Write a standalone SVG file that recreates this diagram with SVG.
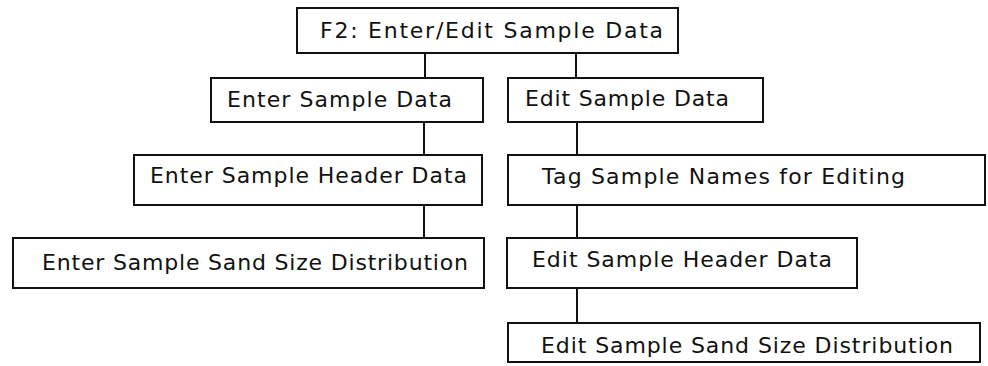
<svg xmlns="http://www.w3.org/2000/svg" width="988" height="366" viewBox="0 0 988 366">
<style>
.box{fill:#fff;stroke:#111;stroke-width:2}
.lbl{font-family:"DejaVu Sans","Liberation Sans",Arial,sans-serif;font-size:22px;fill:#111}
.con{stroke:#111;stroke-width:2;fill:none}
</style>
<rect width="988" height="366" fill="#fff"/>
<g id="connectors">
<line class="con" x1="425" y1="53" x2="425" y2="78"/>
<line class="con" x1="576" y1="53" x2="576" y2="78"/>
<line class="con" x1="424" y1="122" x2="424" y2="155"/>
<line class="con" x1="577" y1="122" x2="577" y2="155"/>
<line class="con" x1="424" y1="205" x2="424" y2="238"/>
<line class="con" x1="577" y1="205" x2="577" y2="238"/>
<line class="con" x1="577" y1="288" x2="577" y2="323"/>
</g>
<g id="n-root">
<rect class="box" x="297" y="8" width="381" height="45"/>
<text class="lbl" x="320" y="38" textLength="343" lengthAdjust="spacing">F2: Enter/Edit Sample Data</text>
</g>
<g id="n-enter">
<rect class="box" x="211" y="78" width="272" height="44"/>
<text class="lbl" x="227" y="107" textLength="225" lengthAdjust="spacing">Enter Sample Data</text>
</g>
<g id="n-edit">
<rect class="box" x="508" y="78" width="255" height="44"/>
<text class="lbl" x="525" y="106" textLength="204" lengthAdjust="spacing">Edit Sample Data</text>
</g>
<g id="n-enter-header">
<rect class="box" x="134" y="155" width="348" height="50"/>
<text class="lbl" x="150" y="183" textLength="317" lengthAdjust="spacing">Enter Sample Header Data</text>
</g>
<g id="n-tag">
<rect class="box" x="508" y="155" width="477" height="50"/>
<text class="lbl" x="542" y="184" textLength="363" lengthAdjust="spacing">Tag Sample Names for Editing</text>
</g>
<g id="n-enter-sand">
<rect class="box" x="13" y="238" width="471" height="50"/>
<text class="lbl" x="42" y="270" textLength="426" lengthAdjust="spacing">Enter Sample Sand Size Distribution</text>
</g>
<g id="n-edit-header">
<rect class="box" x="507" y="238" width="350" height="50"/>
<text class="lbl" x="532" y="267" textLength="300" lengthAdjust="spacing">Edit Sample Header Data</text>
</g>
<g id="n-edit-sand">
<rect class="box" x="508" y="323" width="472" height="39"/>
<text class="lbl" x="541" y="353" textLength="412" lengthAdjust="spacing">Edit Sample Sand Size Distribution</text>
</g>
</svg>
